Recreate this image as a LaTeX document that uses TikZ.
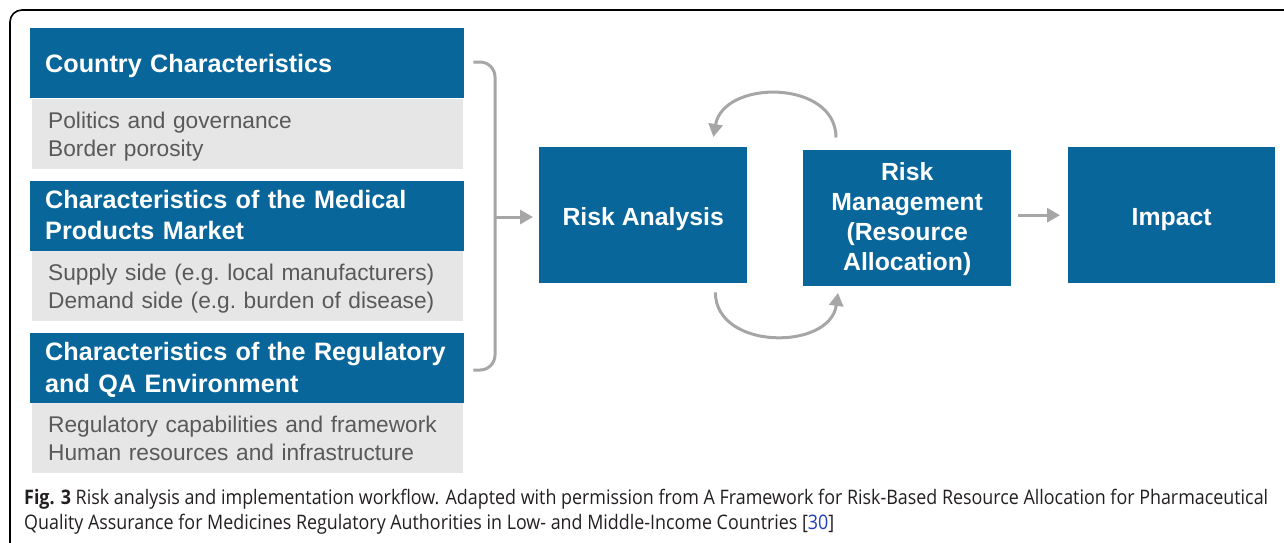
\documentclass[tikz,border=0pt]{standalone}
\usepackage{fontspec}
\setmainfont{Liberation Sans}
\newfontfamily\capfont{Open Sans}
\usetikzlibrary{arrows.meta,calc}
\definecolor{boxblue}{HTML}{09669B}
\definecolor{boxgrey}{HTML}{E6E6E6}
\definecolor{txtgrey}{HTML}{595959}
\definecolor{conngrey}{HTML}{A6A6A6}
\definecolor{linkblue}{HTML}{1F3FBF}
\definecolor{captxt}{HTML}{231F20}
\begin{document}
\begin{tikzpicture}[x=1pt,y=-1pt,
  hdr/.style={fill=boxblue,text=white,draw=none,anchor=north west,inner xsep=15pt,inner ysep=0pt,
    text width=404pt,minimum height=70pt,align=left,font=\bfseries\fontsize{25.2}{31.5}\selectfont,
    text height=18pt,text depth=33pt},
  hdrone/.style={hdr,text height=18.6pt,text depth=0pt},
  sub/.style={fill=boxgrey,text=txtgrey,draw=none,anchor=north west,inner xsep=16pt,inner ysep=0pt,
    text width=399pt,minimum height=70pt,align=left,font=\fontsize{22.7}{28}\selectfont,
    text height=17pt,text depth=28.4pt},
  stage/.style={fill=boxblue,text=white,draw=none,anchor=north west,inner sep=0pt,
    minimum width=208pt,minimum height=136pt,align=center,font=\bfseries\fontsize{24.8}{29.8}\selectfont,
    text height=20pt,text depth=0pt},
  conn/.style={draw=conngrey,line width=3pt},
  tip/.style={-{Triangle[length=13pt,width=14pt]}}
]
\useasboundingbox (0,0) rectangle (1284,542);
\draw[line width=1.6pt,rounded corners=12pt] (10,545) -- (10,10) -- (1290,10);

\node[hdrone] (h1) at (30,28) {Country Characteristics};
\node[sub] (s1) at (32,98.5) {Politics and governance\\Border porosity};
\node[hdr] (h2) at (30,180.5) {Characteristics of the Medical\\Products Market};
\node[sub] (s2) at (32,250.5) {Supply side (e.g.\ local manufacturers)\\Demand side (e.g.\ burden of disease)};
\node[hdr] (h3) at (30,333) {Characteristics of the Regulatory\\and QA Environment};
\node[sub] (s3) at (32,402.5) {Regulatory capabilities and framework\\Human resources and infrastructure};

\node[stage] (ra) at (539,147) {Risk Analysis};
\node[stage,text height=106pt,text depth=0.8pt] (rm) at (803,149.5) {Risk\\Management\\(Resource\\Allocation)};
\node[stage,minimum width=207pt] (im) at (1068,147) {Impact};

% bracket
\coordinate (bt) at ($(h1.north east)+(9,34)$);
\coordinate (bb) at ($(h3.north east)+(9,37)$);
\coordinate (bm) at (495,217);
\draw[conn,rounded corners=15pt] (bt) -- (495,62) -- (495,370) -- (bb);
\draw[conn,tip,shorten >=6pt] (bm) -- (ra.west |- bm);

% loops
\coordinate (l1s) at ($(rm.north west)+(33,-12)$);
\coordinate (l1e) at ($(ra.north east)+(-34,-10)$);
\draw[conn,tip] (l1s) .. controls ($(l1s)+(0,-58)$) and ($(l1e)+(10,-58)$) .. (l1e);
\coordinate (l2s) at ($(ra.south east)+(-32,9)$);
\coordinate (l2e) at ($(rm.south west)+(35,7)$);
\draw[conn,tip] (l2s) .. controls ($(l2s)+(0,58)$) and ($(l2e)+(-8,58)$) .. (l2e);

\draw[conn,tip,shorten <=7pt,shorten >=8pt] (rm.east |- im.west) -- (im.west);

% caption
\node[anchor=base west,inner sep=0pt,text=captxt] (cap1) at (24,504)
  {\resizebox{1244pt}{\height}{\capfont\fontsize{20}{24}\selectfont\textbf{Fig. 3} Risk analysis and implementation workflow. Adapted with permission from A Framework for Risk-Based Resource Allocation for Pharmaceutical}};
\node[anchor=base west,inner sep=0pt,text=captxt] (cap2) at (24,529)
  {\resizebox{810pt}{\height}{\capfont\fontsize{20}{24}\selectfont Quality Assurance for Medicines Regulatory Authorities in Low- and Middle-Income Countries [\textcolor{linkblue}{30}]}};
\end{tikzpicture}
\end{document}
